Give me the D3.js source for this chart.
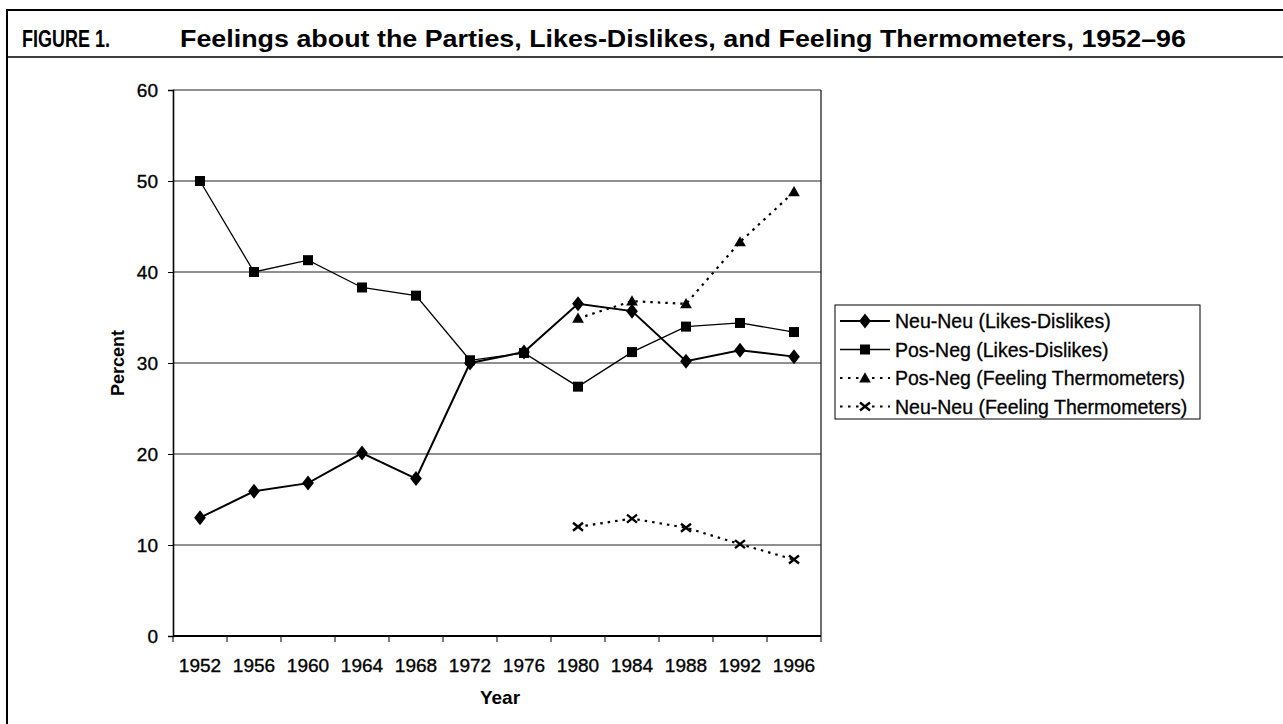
<!DOCTYPE html>
<html>
<head>
<meta charset="utf-8">
<script src="https://cdnjs.cloudflare.com/ajax/libs/d3/7.8.5/d3.min.js"></script>
<style>
  body { margin: 0; background: #fff; }
  text { font-family: "Liberation Sans", Arial, sans-serif; fill: #000; }
</style>
</head>
<body>
<script>
width  = 1283
height = 724

// data
var years = ["1952", "1956", "1960", "1964", "1968", "1972", "1976", "1980", "1984", "1988", "1992", "1996"];
var yTicks = [0, 10, 20, 30, 40, 50, 60];

var neuNeuLD = [13.0, 15.9, 16.8, 20.1, 17.3, 30.0, 31.2, 36.5, 35.7, 30.2, 31.4, 30.7];
var posNegLD = [50.0, 40.0, 41.3, 38.3, 37.4, 30.3, 31.1, 27.4, 31.2, 34.0, 34.4, 33.4];
var ftYears  = ["1980", "1984", "1988", "1992", "1996"];
var posNegFT = [34.9, 36.8, 36.5, 43.3, 48.8];
var neuNeuFT = [12.0, 12.9, 11.9, 10.1, 8.4];

var seriesNames = [
  "Neu-Neu (Likes-Dislikes)",
  "Pos-Neg (Likes-Dislikes)",
  "Pos-Neg (Feeling Thermometers)",
  "Neu-Neu (Feeling Thermometers)"
];

var series = [
  {name: seriesNames[0], x: years,   y: neuNeuLD, symbol: "diamond",  dash: null,    lw: 2},
  {name: seriesNames[1], x: years,   y: posNegLD, symbol: "square",   dash: null,    lw: 1.3},
  {name: seriesNames[2], x: ftYears, y: posNegFT, symbol: "triangle", dash: "2.5,5", lw: 2.2},
  {name: seriesNames[3], x: ftYears, y: neuNeuFT, symbol: "cross",    dash: "2.5,5", lw: 2.2}
];

var plot = {left: 173, right: 821, top: 90, bottom: 636};

const svg = d3.select('body').append('svg')
  .attr('width', width)
  .attr('height', height);

// frame + title
svg.append("line").attr("x1", 7).attr("x2", width).attr("y1", 10).attr("y2", 10)
  .attr("stroke", "#000").attr("stroke-width", 2);
svg.append("line").attr("x1", 7).attr("x2", 7).attr("y1", 9).attr("y2", height)
  .attr("stroke", "#000").attr("stroke-width", 2);
svg.append("line").attr("x1", 7).attr("x2", width).attr("y1", 57).attr("y2", 57)
  .attr("stroke", "#000").attr("stroke-width", 1.5);

var titleFont = "'Liberation Sans Narrow', 'Liberation Sans', Arial, sans-serif";
svg.append("text")
  .attr("x", 22).attr("y", 47)
  .attr("font-size", 24).attr("font-weight", "bold")
  .attr("font-family", titleFont)
  .attr("textLength", 88).attr("lengthAdjust", "spacingAndGlyphs")
  .text("FIGURE 1.");
svg.append("text")
  .attr("x", 180).attr("y", 47)
  .attr("font-size", 24).attr("font-weight", "bold")
  .attr("font-family", titleFont)
  .attr("textLength", 1006).attr("lengthAdjust", "spacingAndGlyphs")
  .text("Feelings about the Parties, Likes-Dislikes, and Feeling Thermometers, 1952\u201396");

var x = d3.scaleBand().domain(years).range([plot.left, plot.right]);
var y = d3.scaleLinear().domain([0, 60]).range([plot.bottom, plot.top]);
var cx = d => x(d) + x.bandwidth() / 2;

// gridlines
svg.append("g")
  .selectAll("line")
  .data(yTicks.filter(d => d > 0))
  .enter().append("line")
    .attr("x1", plot.left).attr("x2", plot.right)
    .attr("y1", d => y(d)).attr("y2", d => y(d))
    .attr("stroke", "#222").attr("stroke-width", 1.1);

// right border of plot area
svg.append("line")
  .attr("x1", plot.right).attr("x2", plot.right)
  .attr("y1", plot.top).attr("y2", plot.bottom)
  .attr("stroke", "#222").attr("stroke-width", 1.3);

// y axis
var yAxis = d3.axisLeft(y).tickValues(yTicks).tickSize(5).tickPadding(10);
var gy = svg.append("g").attr("transform", `translate(${plot.left},0)`).call(yAxis);
gy.select(".domain").attr("stroke", "#000").attr("stroke-width", 1.6);
gy.selectAll(".tick line").attr("stroke", "#000");
gy.selectAll("text")
  .attr("font-size", 19).attr("font-family", "Liberation Sans, Arial, sans-serif")
  .attr("stroke", "#000").attr("stroke-width", 0.35);

// x axis: ticks between categories
var gx = svg.append("g").attr("transform", `translate(0,${plot.bottom})`);
gx.append("line").attr("x1", plot.left).attr("x2", plot.right)
  .attr("stroke", "#000").attr("stroke-width", 1.8);
var bounds = years.map(d => x(d)).concat([plot.right]);
gx.selectAll(".tk").data(bounds).enter().append("line")
  .attr("x1", d => d).attr("x2", d => d).attr("y1", 0).attr("y2", 6)
  .attr("stroke", "#000");
gx.selectAll(".lbl").data(years).enter().append("text")
  .attr("x", cx).attr("y", 36)
  .attr("text-anchor", "middle")
  .attr("font-size", 19)
  .attr("stroke", "#000").attr("stroke-width", 0.35)
  .text(d => d);

// axis titles
svg.append("text")
  .attr("transform", "translate(124,363) rotate(-90)")
  .attr("text-anchor", "middle")
  .attr("font-size", 18).attr("font-weight", "bold")
  .text("Percent");
svg.append("text")
  .attr("x", 500).attr("y", 704)
  .attr("text-anchor", "middle")
  .attr("font-size", 19).attr("font-weight", "bold")
  .text("Year");

function drawSymbol(g, kind, px, py) {
  if (kind === "diamond") {
    g.append("path").attr("d", d3.symbol(d3.symbolDiamond, 90)())
      .attr("transform", `translate(${px},${py}) scale(1.15,0.85)`);
  } else if (kind === "square") {
    g.append("rect").attr("x", px - 5).attr("y", py - 5)
      .attr("width", 10).attr("height", 10);
  } else if (kind === "triangle") {
    g.append("path").attr("d", d3.symbol(d3.symbolTriangle, 60)())
      .attr("transform", `translate(${px},${py + 1})`);
  } else if (kind === "cross") {
    g.append("path").attr("d", `M${px - 5},${py - 4}L${px + 5},${py + 4}M${px - 5},${py + 4}L${px + 5},${py - 4}`)
      .attr("stroke", "#000").attr("stroke-width", 2.4).attr("fill", "none");
  }
}

var line = d3.line();

series.forEach(s => {
  var pts = s.x.map((d, i) => [cx(d), y(s.y[i])]);
  svg.append("path")
    .attr("d", line(pts))
    .attr("fill", "none")
    .attr("stroke", "#000")
    .attr("stroke-width", s.lw)
    .attr("stroke-dasharray", s.dash);
  var g = svg.append("g").attr("fill", "#000");
  pts.forEach(p => drawSymbol(g, s.symbol, p[0], p[1]));
});

// legend
var lg = svg.append("g");
lg.append("rect")
  .attr("x", 835).attr("y", 305).attr("width", 365).attr("height", 114)
  .attr("fill", "#fff").attr("stroke", "#000").attr("stroke-width", 1);
series.forEach((s, i) => {
  var ly = 321 + i * 28.5;
  lg.append("line")
    .attr("x1", 840).attr("x2", 890).attr("y1", ly).attr("y2", ly)
    .attr("stroke", "#000").attr("stroke-width", s.lw)
    .attr("stroke-dasharray", s.dash ? "2.5,5.5" : null);
  var g = lg.append("g").attr("fill", "#000");
  drawSymbol(g, s.symbol, 865, ly);
  lg.append("text")
    .attr("x", 895).attr("y", ly + 7)
    .attr("font-size", 19.5)
    .attr("stroke", "#000").attr("stroke-width", 0.3)
    .text(s.name);
});
</script>
</body>
</html>
